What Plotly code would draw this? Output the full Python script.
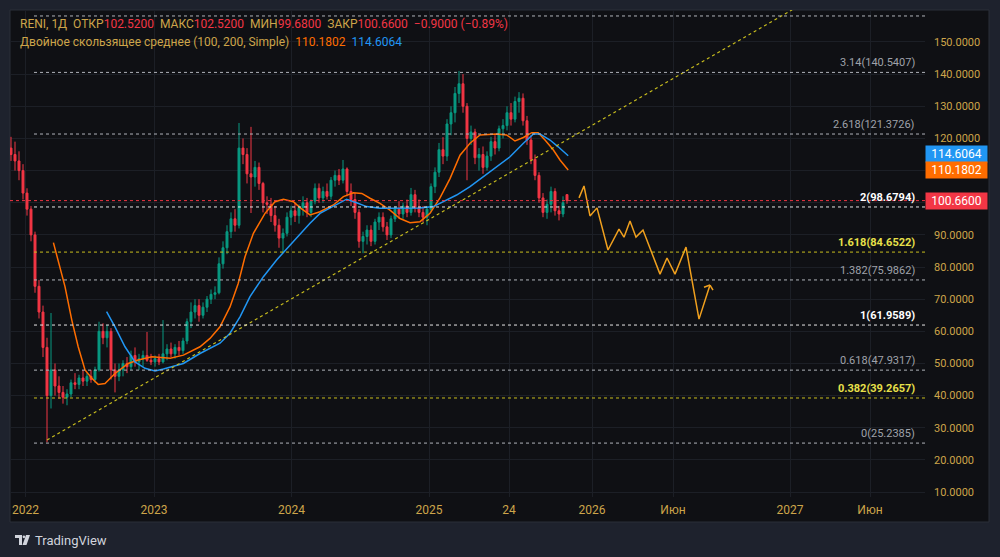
import plotly.graph_objects as go

# ---------------- data ----------------
bar_index = list(range(140))
opens = [117,115,113,110,103,98,90,74,66,55,40,48,43,41,39.5,40.5,44,43.5,45.5,44.5,
         46,45,48,60,58,60,48,46,48,50,49,52.5,50.5,51.5,52.5,51,50.5,51.5,50.5,53,
         54.5,53,55,54,57,63,66,68,65,67.5,70,71.5,72,81,86,91,95,93,117,115,
         109,108,111,106,100,99.5,96,93,89,90.5,95.5,97.5,96,98.5,100,97,100.5,104.5,101.5,103.5,
         102,107,108.5,107,110.5,103.5,101,97,88,89.5,91.5,88,94,95.5,92.5,90,95,98,96.5,99,
         97,102.5,98.5,97,95.5,98,105,109.5,116.5,114.5,124.5,128,134,137,130,120,122,114,115,111,
         114.5,119,117,123,124,128,126,131.5,132.5,125.5,119.5,113.5,108.5,101.5,97,99.5,103.5,97.5,96.5,102.52]
highs = [120.5,119,116,112,104.5,99,91,76,68,58,65.7,50,46,43,42,45,47,46.5,48,47,
         48,49,63,62.5,62,61,50,50,51,52,54,55,53,54,59.8,53,52.5,53,63.5,56,
         56.5,56,57,58,64,69,70,70,69,71,73,74,83,88,93,97,98,124.8,120,117,
         123.6,113,112.5,106.5,102,101.5,99,95,92,97,99,100,99.5,102,101.5,101,106,106,105,106,
         108,110,110.5,113.3,111,106,103,98,91,93,93,95,97,97,94,96,99,100.5,100,101,
         104.6,104,101,99,99,106,111,118.6,120.4,126,130,136,141,140,131,124,123,117,117.5,116,
         120.5,121,124,126,130,131,133,134.4,134,127,121,115,109.5,103,101,105,104.5,99,102,102.52]
lows = [113,110,107,101,96,88,72,64,52,25.5,36,40,39,37.5,37,39.5,42,42,43,43,
        44,44,47.5,56,55,45,41,44.5,46,47,48,49,48,49,50.5,49.5,49,49.5,50,51,
        52,51.5,52.5,53,56,61,64,63,64,66,68.5,70,71.5,79.5,84,89,91,92,112,106,
        96.8,105,104,97,96.5,94,91,86,84.3,89.5,93,94,93.5,96,95.5,95.5,99.5,100,100,101,
        101,105,105.5,106,102,99,95,86,84.3,87,86.5,87,91.5,91,88.4,89,94,95,95,95.5,
        96,97,95.5,94,93,97,103,108,112,113,121,125,131,128,107,118,112,110,109,110,
        113,115,116,120,122.5,124,125,128,124,118,112,107,100,95.5,95,97,96,94.5,95.5,99.68]
closes = [115,113,110,103,98,90,74,66,55,40,48,43,41,39.5,40.5,44,43.5,45.5,44.5,46,
          45,48,60,58,60,48,46,48,50,49,52.5,50.5,51.5,52.5,51,50.5,51.5,50.5,53,54.5,
          53,55,54,57,63,66,68,65,67.5,70,71.5,72,81,86,91,95,93,117,115,109,
          108,111,106,100,99.5,96,93,89,90.5,95.5,97.5,96,98.5,100,97,100.5,104.5,101.5,103.5,102,
          107,108.5,107,110.5,103.5,101,97,88,89.5,91.5,88,94,95.5,92.5,90,95,98,96.5,99,97,
          102.5,98.5,97,95.5,98,105,109.5,116.5,114.5,124.5,128,134,137,130,120,122,114,115,111,114.5,
          119,117,123,124,128,126,131.5,132.5,125.5,119.5,113.5,108.5,101.5,97,99.5,103.5,97.5,96.5,100,100.66]

# moving averages (100 and 200)
ma100_x = [10.6,11.8,13.5,15.2,16.8,18.5,20.2,21.8,23.5,26,29.3,31.8,35.2,39.8,43.1,47.25,49.75,52.25,54.75,56.8,
           58.5,60.6,63.5,66,68.1,70.6,72.25,74.75,77.25,80.6,83.1,85.6,87.7,89.75,92.25,94.75,97.25,99.75,102.25,104.75,
           107.25,109.75,112.25,114.75,117.25,121.4,123.9,126,128.1,130.2,131.8,133.5,135.6,137.25,139.3]
ma100_y = [87.6,82.2,73.9,63.5,55.2,48,45.4,43.5,43.8,46.9,50,51.1,52.1,51.6,52.6,55.2,57.8,61.4,67.6,74.9,
           83.2,90.5,96.7,100.3,101.1,100.3,98.5,96.2,97.2,99.3,101.9,103.1,102.9,101.4,99.8,97.7,95.1,93.8,94.1,96.7,
           101.5,107.5,114.8,118.5,121.1,121.4,121.1,119.2,120.3,121.8,121.8,119.5,116.4,113.3,110.18]
ma200_x = [23.9,26,28.5,31,33.5,36,38.1,43.1,47.25,52.25,54.75,57.25,59.75,63.1,66.4,69.75,72.25,74.75,77.25,80.6,
           83.9,86.4,88.9,92.25,97.25,102.25,105.6,108.1,111.4,114.75,118.1,121.4,124.75,128.1,130.6,132.25,134.75,136.8,139.3]
ma200_y = [66.1,61.4,55.2,50.5,48.5,47.7,48.3,50,53.1,56.3,59.4,64.5,70.8,77,82.2,86.8,90.3,93.6,96.7,99,
           101.1,100,98.8,98.3,98.3,98.4,98.8,100.3,102.4,105,108.1,111.2,114.3,118.5,121.4,121.4,119.5,117.4,114.61]

# hand-drawn forecast path
path_x = [142,143.25,144.75,146.5,149.25,152,153.25,154.75,156.25,158,162.25,164,166,168.75,172,174.75]
path_y = [101.5,105.2,95.9,98.4,85.3,91.8,89.3,94.3,89.3,91.5,77.8,82.8,77.8,86.2,63.8,74.4]

# trend line anchors
trend_x = [9, 195.3]
trend_y = [26.2, 160]

# fibonacci extension
fib_ratio = ["0", "0.382", "0.618", "1", "1.382", "1.618", "2", "2.618", "3.14", "3.618"]
fib_price = [25.2385, 39.2657, 47.9317, 61.9589, 75.9862, 84.6522, 98.6794, 121.3726, 140.5407, 158.0905]
fib_color = ["#9fa2aa", "#e8e04a", "#9fa2aa", "#ffffff", "#9fa2aa", "#e8e04a", "#ffffff", "#9fa2aa", "#9fa2aa", "#9fa2aa"]
fib_line = ["#b0b3ba", "#c8bd1e", "#b0b3ba", "#e6e6e6", "#b0b3ba", "#c8bd1e", "#e6e6e6", "#b0b3ba", "#b0b3ba", "#b0b3ba"]
fib_start = 5.75

last_close = 100.66
ma100_last = 110.1802
ma200_last = 114.6064

# x axis labels
tick_pos = [3.6, 35.75, 70.1, 104.5, 124.5, 145.25, 165.5, 194.75, 214.75]
tick_text = ["2022", "2023", "2024", "2025", "24", "2026", "Июн", "2027", "Июн"]
ytick_vals = [10, 20, 30, 40, 50, 60, 70, 80, 90, 100, 110, 120, 130, 140, 150]
# 100 and 110 are hidden behind the price boxes in the reference
ytick_text = ["10.0000", "20.0000", "30.0000", "40.0000", "50.0000", "60.0000", "70.0000", "80.0000",
              "90.0000", "", "", "120.0000", "130.0000", "140.0000", "150.0000"]

# ---------------- layout helpers ----------------
W, H = 1000, 557
L, R, T, B = 10, 925, 10, 497
def pxx(x): return (x - L) / (R - L)
def pxy(y): return (B - y) / (B - T)

GOLD = "#cda54a"
BG = "#0f1014"
OUTER = "#1e222d"
GRID = "#1c1f26"
FONT = "Roboto"

fig = go.Figure()

fig.add_trace(go.Candlestick(
    x=bar_index, open=opens, high=highs, low=lows, close=closes,
    increasing=dict(line=dict(color="#089981", width=1), fillcolor="#089981"),
    decreasing=dict(line=dict(color="#f23645", width=1), fillcolor="#f23645"),
    whiskerwidth=0, showlegend=False, hoverinfo="skip"))

fig.add_trace(go.Scatter(x=ma100_x, y=ma100_y, mode="lines",
                         line=dict(color="#ff6d00", width=1.5), showlegend=False, hoverinfo="skip"))
fig.add_trace(go.Scatter(x=ma200_x, y=ma200_y, mode="lines",
                         line=dict(color="#2196f3", width=1.5), showlegend=False, hoverinfo="skip"))
fig.add_trace(go.Scatter(x=trend_x, y=trend_y, mode="lines",
                         line=dict(color="#c8bd1e", width=1.2, dash="dot"), showlegend=False, hoverinfo="skip"))
fig.add_trace(go.Scatter(x=path_x, y=path_y, mode="lines",
                         line=dict(color="#f0a01e", width=1.5), showlegend=False, hoverinfo="skip"))

shapes = []
# panel background
shapes.append(dict(type="rect", xref="paper", yref="paper", layer="below",
                   x0=pxx(10), x1=pxx(989), y0=pxy(522), y1=pxy(10),
                   fillcolor=BG, line=dict(color="#2a2e39", width=1)))
# fib lines
for p, c in zip(fib_price, fib_line):
    shapes.append(dict(type="line", xref="x", yref="y", x0=fib_start, x1=228.5, y0=p, y1=p,
                       line=dict(color=c, width=1, dash="dot")))
# current price line
shapes.append(dict(type="line", xref="paper", yref="y", x0=0, x1=1, y0=last_close, y1=last_close,
                   line=dict(color="#f23645", width=1, dash="dot")))
# arrow head of forecast path
shapes.append(dict(type="line", xref="x", yref="y", x0=path_x[-1], y0=path_y[-1],
                   x1=path_x[-1] - 1.5, y1=path_y[-1] - 0.7, line=dict(color="#f0a01e", width=1.5)))
shapes.append(dict(type="line", xref="x", yref="y", x0=path_x[-1], y0=path_y[-1],
                   x1=path_x[-1] + 0.75, y1=path_y[-1] - 1.6, line=dict(color="#f0a01e", width=1.5)))

# TradingView logo
def P(x, y): return f"{pxx(x):.5f},{pxy(y):.5f}"
logo_col = "#d1d4dc"
shapes.append(dict(type="path", xref="paper", yref="paper",
                   path=f"M{P(15,535)} L{P(22,535)} L{P(22,545)} L{P(19,545)} L{P(19,538)} L{P(15,538)} Z",
                   fillcolor=logo_col, line=dict(width=0)))
shapes.append(dict(type="circle", xref="paper", yref="paper",
                   x0=pxx(22.6), x1=pxx(25.2), y0=pxy(538.2), y1=pxy(535.4),
                   fillcolor=logo_col, line=dict(width=0)))
shapes.append(dict(type="path", xref="paper", yref="paper",
                   path=f"M{P(26,535)} L{P(30,535)} L{P(26.5,545)} L{P(22.5,545)} Z",
                   fillcolor=logo_col, line=dict(width=0)))

annotations = []
for r, p, c in zip(fib_ratio, fib_price, fib_color):
    if r == "3.618":
        continue
    bold = r in ("1", "2", "0.382", "1.618")
    txt = f"{r}({p:.4f})"
    annotations.append(dict(xref="paper", yref="y", x=pxx(917), y=p, xanchor="right", yanchor="bottom",
                            yshift=1, text=f"<b>{txt}</b>" if bold else txt, showarrow=False,
                            font=dict(family=FONT, size=11, color=c)))

# price boxes on axis
for val, col, ys in [(ma200_last, "#2196f3", 1.5), (ma100_last, "#ff6d00", 0), (last_close, "#f23645", 0)]:
    annotations.append(dict(xref="paper", yref="y", x=1, y=val, xanchor="left", yanchor="middle",
                            yshift=ys, xshift=0, text=f"{val:.4f}", showarrow=False,
                            bgcolor=col, width=59, height=14, borderpad=1, align="center",
                            font=dict(family=FONT, size=12, color="#ffffff")))

NB = "\u00a0"
def sp(t, c): return f'<span style="color:{c}">{t}</span>'
RED = "#f23645"
line1 = (sp(f"RENI, 1Д{NB}{NB}ОТКР", GOLD) + sp("102.5200", RED) + sp(f"{NB}{NB}МАКС", GOLD) + sp("102.5200", RED)
         + sp(f"{NB}{NB}МИН", GOLD) + sp("99.6800", RED) + sp(f"{NB}{NB}ЗАКР", GOLD) + sp("100.6600", RED)
         + sp(f"{NB}{NB}−0.9000 (−0.89%)", RED))
line2 = (sp("Двойное скользящее среднее (100, 200, Simple)", GOLD) + sp(f"{NB}{NB}{ma100_last:.4f}", "#ff6d00")
         + sp(f"{NB}{NB}{ma200_last:.4f}", "#2196f3"))
annotations.append(dict(xref="paper", yref="paper", x=pxx(18), y=pxy(24), xanchor="left", yanchor="middle",
                        text=line1, showarrow=False, font=dict(family=FONT, size=12, color=GOLD)))
annotations.append(dict(xref="paper", yref="paper", x=pxx(18), y=pxy(42), xanchor="left", yanchor="middle",
                        text=line2, showarrow=False, font=dict(family=FONT, size=12, color=GOLD)))
annotations.append(dict(xref="paper", yref="paper", x=pxx(33), y=pxy(540), xanchor="left", yanchor="middle",
                        text="TradingView", showarrow=False, font=dict(family=FONT, size=13, color=logo_col)))

fig.update_layout(
    width=W, height=H, autosize=False,
    margin=dict(l=L, r=W - R, t=T, b=H - B),
    paper_bgcolor=OUTER, plot_bgcolor=BG,
    shapes=shapes, annotations=annotations, showlegend=False,
    hovermode=False,
    font=dict(family=FONT, color=GOLD),
    xaxis=dict(range=[-0.25, 228.5], rangeslider=dict(visible=False), tickvals=tick_pos, ticktext=tick_text,
               showgrid=True, gridcolor=GRID, gridwidth=1, zeroline=False, showline=False, ticks="",
               tickfont=dict(family=FONT, size=12, color=GOLD), ticklabelstandoff=4, fixedrange=True),
    yaxis=dict(range=[8.47, 159.95], side="right", tickvals=ytick_vals, ticktext=ytick_text,
               showgrid=True, gridcolor=GRID, gridwidth=1, zeroline=False, showline=False, ticks="",
               tickfont=dict(family=FONT, size=11, color=GOLD), ticklabelstandoff=8, fixedrange=True),
)

fig.write_html("out.html")
